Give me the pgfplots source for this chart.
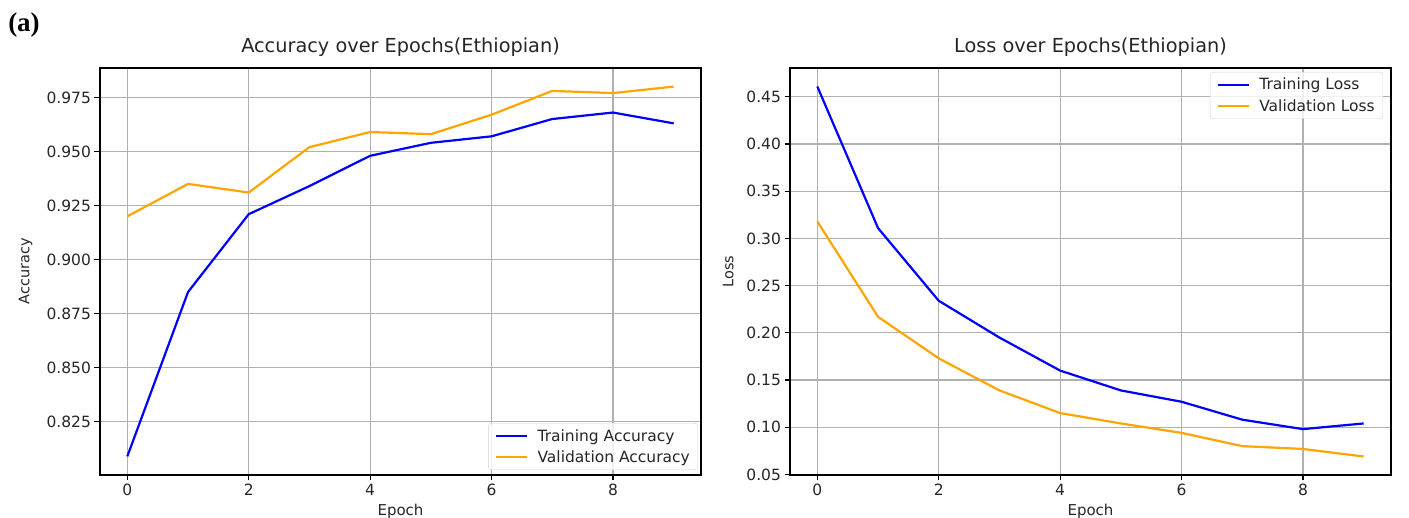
\documentclass[border=0pt]{standalone}
\usepackage{pgfplots}
\pgfplotsset{compat=1.18}
\usepackage{fontspec}
\setmainfont{DejaVu Sans}
\newfontfamily\timesfont{Liberation Serif}

\definecolor{gridgray}{HTML}{B0B0B0}
\definecolor{mplorange}{RGB}{255,165,0}
\definecolor{txt}{HTML}{262626}

% accuracy per epoch
\pgfplotstableread{
epoch train val
0 0.809 0.920
1 0.885 0.935
2 0.921 0.931
3 0.934 0.952
4 0.948 0.959
5 0.954 0.958
6 0.957 0.967
7 0.965 0.978
8 0.968 0.977
9 0.963 0.980
}\acc

% loss per epoch
\pgfplotstableread{
epoch train val
0 0.461 0.318
1 0.311 0.217
2 0.234 0.173
3 0.195 0.139
4 0.160 0.115
5 0.139 0.104
6 0.127 0.094
7 0.108 0.080
8 0.098 0.077
9 0.104 0.069
}\loss

\pgfplotsset{
  mpl/.style={
    scale only axis, width=601pt, height=407pt,
    xmin=-0.45, xmax=9.45, xtick={0,2,4,6,8},
    grid=major, grid style={color=gridgray, line width=1.2pt},
    axis line style={line width=1.2pt, black},
    tick align=outside, major tick length=5.5pt,
    tick style={black, line width=1.2pt},
    xtick pos=bottom, ytick pos=left,
    /pgf/number format/assume math mode=true,
    ticklabel style={font=\fontsize{15.5}{18}\selectfont, text=txt},
    title style={font=\fontsize{19.3}{22}\selectfont, text=txt, at={(0.5,1)}, anchor=base, yshift=9pt},
    xlabel style={font=\fontsize{15}{18}\selectfont, text=txt, at={(0.5,0)}, anchor=base, yshift=-41pt},
    ylabel style={font=\fontsize{14.5}{18}\selectfont, text=txt},
    legend style={font=\fontsize{15.5}{18}\selectfont, text=txt, draw=black!18, rounded corners=3pt,
      fill=white, fill opacity=0.8, text opacity=1, inner xsep=6pt, inner ysep=4pt, row sep=4pt},
    legend cell align=left,
    every axis plot/.append style={line width=2.2pt},
  }
}

\begin{document}
\begin{tikzpicture}
\useasboundingbox (0,0) rectangle (1409pt,518pt);

\node[font=\timesfont\bfseries\fontsize{27}{30}\selectfont, anchor=center] at (24pt,493pt) {(a)};

\begin{axis}[mpl,
  at={(100pt,43pt)}, anchor=south west,
  ymin=0.8004, ymax=0.9886,
  ytick={0.825,0.850,0.875,0.900,0.925,0.950,0.975},
  yticklabel style={/pgf/number format/.cd, fixed, fixed zerofill, precision=3},
  title={Accuracy over Epochs(Ethiopian)},
  xlabel={Epoch}, ylabel={Accuracy},
  ylabel style={at={(axis description cs:-0.1236,0.5)}, anchor=center},
  legend style={at={(axis description cs:1,0)}, anchor=south east, xshift=-3pt, yshift=5pt},
  legend image code/.code={\path (-1pt,0pt) (38pt,0pt); \draw[#1] (0pt,0pt) -- (31pt,0pt);},
]
\addplot[blue] table[x=epoch, y=train] {\acc};
\addlegendentry{Training Accuracy}
\addplot[mplorange] table[x=epoch, y=val] {\acc};
\addlegendentry{Validation Accuracy}
\end{axis}

\begin{axis}[mpl,
  at={(790pt,43pt)}, anchor=south west,
  ymin=0.0494, ymax=0.4806,
  ytick={0.05,0.10,0.15,0.20,0.25,0.30,0.35,0.40,0.45},
  yticklabel style={/pgf/number format/.cd, fixed, fixed zerofill, precision=2},
  title={Loss over Epochs(Ethiopian)},
  xlabel={Epoch}, ylabel={Loss},
  ylabel style={at={(axis description cs:-0.103,0.5)}, anchor=center},
  legend style={at={(axis description cs:1,1)}, anchor=north east, xshift=-8pt, yshift=-4pt},
  legend image code/.code={\path (-1pt,0pt) (38pt,0pt); \draw[#1] (0pt,0pt) -- (31pt,0pt);},
]
\addplot[blue] table[x=epoch, y=train] {\loss};
\addlegendentry{Training Loss}
\addplot[mplorange] table[x=epoch, y=val] {\loss};
\addlegendentry{Validation Loss}
\end{axis}
\end{tikzpicture}
\end{document}
